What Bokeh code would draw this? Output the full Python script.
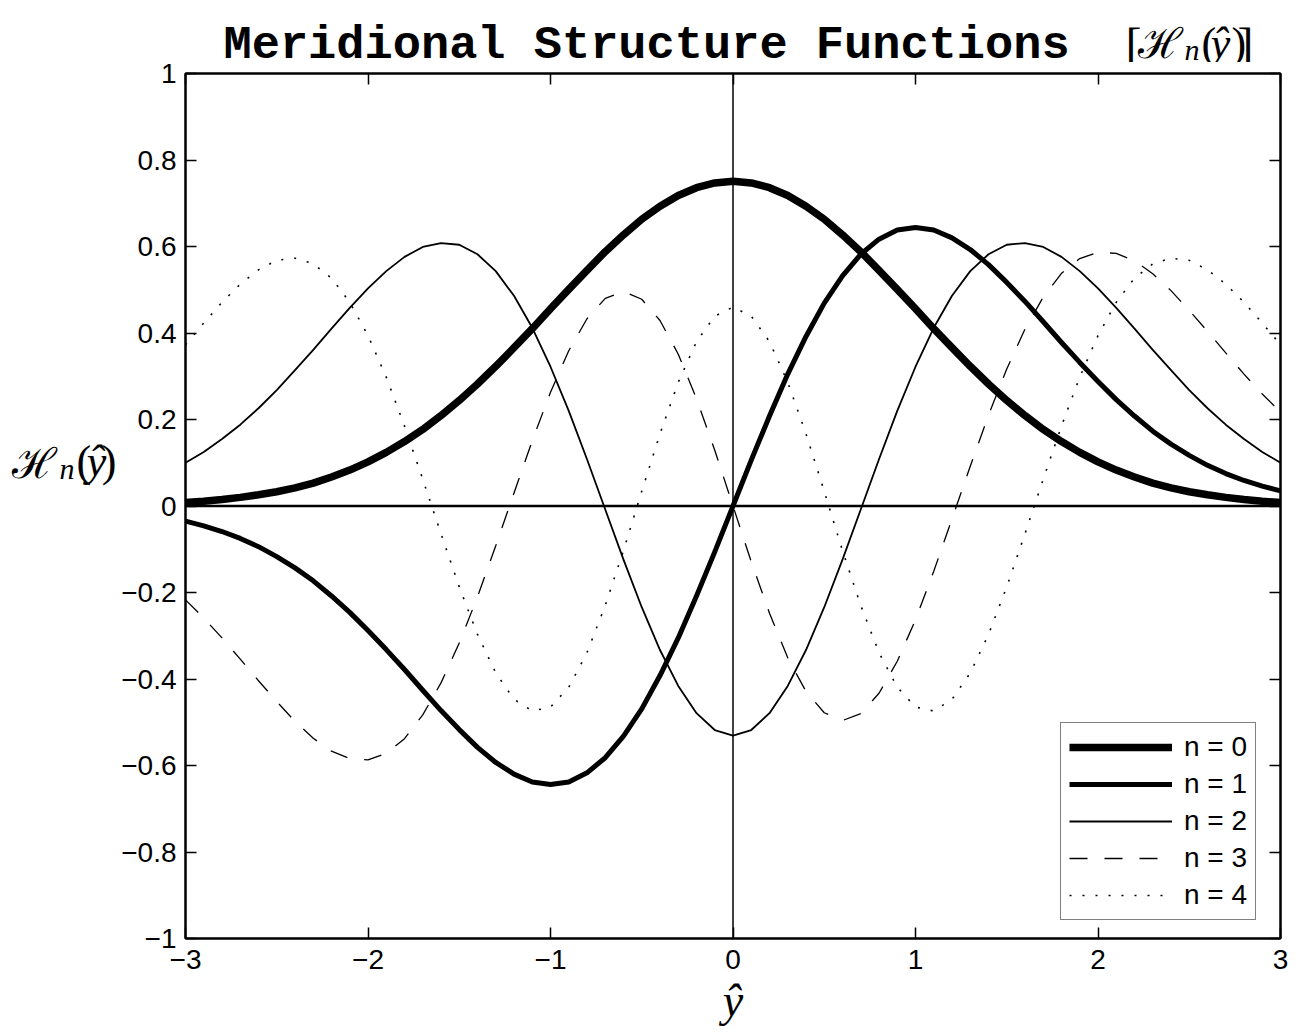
from bokeh.plotting import figure
from bokeh.models import Range1d, FixedTicker, LinearAxis, Span
from bokeh.layouts import column, row
from bokeh.core.properties import value
from bokeh.embed import file_html
from bokeh.resources import INLINE

# ---------------- data ----------------
Y_HAT = [-3.0, -2.9, -2.8, -2.7, -2.6, -2.5, -2.4, -2.3, -2.2, -2.1,
         -2.0, -1.9, -1.8, -1.7, -1.6, -1.5, -1.4, -1.3, -1.2, -1.1,
         -1.0, -0.9, -0.8, -0.7, -0.6, -0.5, -0.4, -0.3, -0.2, -0.1,
         0.0,
         0.1, 0.2, 0.3, 0.4, 0.5, 0.6, 0.7, 0.8, 0.9, 1.0,
         1.1, 1.2, 1.3, 1.4, 1.5, 1.6, 1.7, 1.8, 1.9, 2.0,
         2.1, 2.2, 2.3, 2.4, 2.5, 2.6, 2.7, 2.8, 2.9, 3.0]

H0 = [0.008, 0.011, 0.015, 0.020, 0.026, 0.033, 0.042, 0.053, 0.067, 0.083,
      0.102, 0.124, 0.149, 0.177, 0.209, 0.244, 0.282, 0.323, 0.366, 0.410,
      0.456, 0.501, 0.545, 0.588, 0.627, 0.663, 0.693, 0.718, 0.736, 0.747,
      0.751,
      0.747, 0.736, 0.718, 0.693, 0.663, 0.627, 0.588, 0.545, 0.501, 0.456,
      0.410, 0.366, 0.323, 0.282, 0.244, 0.209, 0.177, 0.149, 0.124, 0.102,
      0.083, 0.067, 0.053, 0.042, 0.033, 0.026, 0.020, 0.015, 0.011, 0.008]

H1 = [-0.035, -0.046, -0.059, -0.075, -0.094, -0.117, -0.143, -0.173, -0.208, -0.246,
      -0.288, -0.332, -0.378, -0.426, -0.473, -0.517, -0.558, -0.593, -0.620, -0.638,
      -0.644, -0.638, -0.617, -0.582, -0.532, -0.469, -0.392, -0.305, -0.208, -0.106,
      0.000,
      0.106, 0.208, 0.305, 0.392, 0.469, 0.532, 0.582, 0.617, 0.638, 0.644,
      0.638, 0.620, 0.593, 0.558, 0.517, 0.473, 0.426, 0.378, 0.332, 0.288,
      0.246, 0.208, 0.173, 0.143, 0.117, 0.094, 0.075, 0.059, 0.046, 0.035]

H2 = [0.100, 0.125, 0.155, 0.188, 0.226, 0.268, 0.314, 0.361, 0.410, 0.458,
      0.503, 0.543, 0.576, 0.599, 0.608, 0.604, 0.582, 0.543, 0.486, 0.412,
      0.322, 0.220, 0.108, -0.008, -0.124, -0.234, -0.333, -0.416, -0.479, -0.518,
      -0.531,
      -0.518, -0.479, -0.416, -0.333, -0.234, -0.124, -0.008, 0.108, 0.220, 0.322,
      0.412, 0.486, 0.543, 0.582, 0.604, 0.608, 0.599, 0.576, 0.543, 0.503,
      0.458, 0.410, 0.361, 0.314, 0.268, 0.226, 0.188, 0.155, 0.125, 0.100]

H3 = [-0.217, -0.259, -0.305, -0.354, -0.404, -0.452, -0.498, -0.537, -0.567, -0.584,
      -0.587, -0.572, -0.538, -0.483, -0.409, -0.317, -0.210, -0.092, 0.030, 0.151,
      0.263, 0.359, 0.433, 0.480, 0.496, 0.478, 0.429, 0.351, 0.248, 0.129,
      0.000,
      -0.129, -0.248, -0.351, -0.429, -0.478, -0.496, -0.480, -0.433, -0.359, -0.263,
      -0.151, -0.030, 0.092, 0.210, 0.317, 0.409, 0.483, 0.538, 0.572, 0.587,
      0.584, 0.567, 0.537, 0.498, 0.452, 0.404, 0.354, 0.305, 0.259, 0.217]

H4 = [0.373, 0.423, 0.471, 0.513, 0.546, 0.568, 0.573, 0.560, 0.527, 0.471,
      0.394, 0.298, 0.185, 0.062, -0.064, -0.187, -0.297, -0.386, -0.447, -0.474,
      -0.465, -0.419, -0.339, -0.230, -0.103, 0.034, 0.167, 0.286, 0.380, 0.439,
      0.460,
      0.439, 0.380, 0.286, 0.167, 0.034, -0.103, -0.230, -0.339, -0.419, -0.465,
      -0.474, -0.447, -0.386, -0.297, -0.187, -0.064, 0.062, 0.185, 0.298, 0.394,
      0.471, 0.527, 0.560, 0.573, 0.568, 0.546, 0.513, 0.471, 0.423, 0.373]

SERIES_LABELS = ["n = 0", "n = 1", "n = 2", "n = 3", "n = 4"]

XTICKS = [-3, -2, -1, 0, 1, 2, 3]
XTICK_LABELS = ["\u22123", "\u22122", "\u22121", "0", "1", "2", "3"]
YTICKS = [-1.0, -0.8, -0.6, -0.4, -0.2, 0.0, 0.2, 0.4, 0.6, 0.8, 1.0]
YTICK_LABELS = ["\u22121", "\u22120.8", "\u22120.6", "\u22120.4", "\u22120.2", "0",
                "0.2", "0.4", "0.6", "0.8", "1"]

TITLE_TEXT = "Meridional Structure Functions"
X_LABEL = "\u0177"

# ---------------- layout (picture pixels) ----------------
W, H = 1307, 1034
FRAME_L, FRAME_R, FRAME_T, FRAME_B = 183, 1280, 73, 938
TITLE_H = 62          # title strip: rows 0 .. 62
YLAB_W = 118          # y-label strip: columns 0 .. 118
MID_H = H - TITLE_H

SERIF = "Liberation Serif"
SCRIPT = "DejaVu Serif"
TICK_FONT = "Liberation Sans"


def text_strip(width, height):
    """A blank figure whose data units are pixels, y measured up from its bottom."""
    f = figure(width=width, height=height,
               x_range=Range1d(0, width), y_range=Range1d(0, height),
               output_backend="svg", toolbar_location=None,
               x_axis_location=None, y_axis_location=None, min_border=0)
    f.title.visible = False
    f.grid.visible = False
    f.outline_line_color = None
    f.background_fill_color = "white"
    f.border_fill_color = "white"
    return f


def add_text(f, x0, y0, px, py, text, font, size, style="normal", align="left"):
    # (px, py): picture pixels from the top-left; (x0, y0): strip origin
    f.text(x=[px - x0], y=[f.height - (py - y0)], text=[text],
           text_font=value(font), text_font_size=value(size),
           text_font_style=style, text_align=align,
           text_baseline="alphabetic", text_color="black")


# ---- title strip ----
tfig = text_strip(W, TITLE_H)
add_text(tfig, 0, 0, 223, 45, TITLE_TEXT, "Liberation Mono", "47px", "bold")
add_text(tfig, 0, 0, 1125, 44, "[", SERIF, "48px")
add_text(tfig, 0, 0, 1137, 43, "\u210b", SCRIPT, "42px")
add_text(tfig, 0, 0, 1184, 49, "n", SERIF, "30px", "italic")
add_text(tfig, 0, 0, 1201, 43, "(", SERIF, "44px")
add_text(tfig, 0, 0, 1220, 43, "\u0177", SERIF, "44px", "italic", "center")
add_text(tfig, 0, 0, 1231, 43, ")", SERIF, "44px")
add_text(tfig, 0, 0, 1253, 44, "]", SERIF, "48px", "normal", "right")

# ---- y-label strip ----
yfig = text_strip(YLAB_W, MID_H)
add_text(yfig, 0, TITLE_H, 11, 500, "\u210b", SCRIPT, "42px")
add_text(yfig, 0, TITLE_H, 59, 506, "n", SERIF, "30px", "italic")
add_text(yfig, 0, TITLE_H, 76, 498, "(", SERIF, "44px")
add_text(yfig, 0, TITLE_H, 96, 498, "\u0177", SERIF, "44px", "italic", "center")
add_text(yfig, 0, TITLE_H, 116, 498, ")", SERIF, "44px", "normal", "right")

# ---- main plot ----
p = figure(width=W - YLAB_W, height=MID_H,
           x_range=Range1d(-3, 3), y_range=Range1d(-1, 1),
           output_backend="svg", toolbar_location=None,
           min_border_left=FRAME_L - YLAB_W, min_border_right=W - FRAME_R,
           min_border_top=FRAME_T - TITLE_H, min_border_bottom=H - FRAME_B)
p.title.visible = False
p.xgrid.visible = False
p.ygrid.visible = False
p.background_fill_color = "white"
p.border_fill_color = "white"
p.outline_line_color = "black"
p.outline_line_width = 2


def style_axis(ax, show_labels):
    ax.axis_line_color = "black"
    ax.axis_line_width = 2
    ax.major_tick_in = 11
    ax.major_tick_out = 0
    ax.major_tick_line_width = 1.5
    ax.major_tick_line_color = "black"
    ax.minor_tick_line_color = None
    if show_labels:
        ax.major_label_text_font = TICK_FONT
        ax.major_label_text_font_size = "28px"
        ax.major_label_text_color = "black"
    else:
        ax.major_label_text_font_size = "1px"
        ax.major_label_text_color = None
        ax.major_label_standoff = 0


xax = p.xaxis[0]
xax.ticker = FixedTicker(ticks=XTICKS)
xax.major_label_overrides = {float(t): s for t, s in zip(XTICKS, XTICK_LABELS)}
style_axis(xax, True)
xax.major_label_standoff = 11
xax.axis_label = X_LABEL
xax.axis_label_text_font = SERIF
xax.axis_label_text_font_style = "italic"
xax.axis_label_text_font_size = "46px"
xax.axis_label_text_color = "black"
xax.axis_label_standoff = 3

yax = p.yaxis[0]
yax.ticker = FixedTicker(ticks=YTICKS)
yax.major_label_overrides = {float(t): s for t, s in zip(YTICKS, YTICK_LABELS)}
style_axis(yax, True)
yax.major_label_standoff = 9

rax = LinearAxis(ticker=FixedTicker(ticks=YTICKS))
style_axis(rax, False)
p.add_layout(rax, "right")
tax = LinearAxis(ticker=FixedTicker(ticks=XTICKS))
style_axis(tax, False)
p.add_layout(tax, "above")

# zero reference lines
p.add_layout(Span(location=0, dimension="width", line_color="black", line_width=2.5))
p.add_layout(Span(location=0, dimension="height", line_color="black", line_width=1.5))

# curves
p.line(Y_HAT, H0, line_color="black", line_width=7.5, line_join="round",
       legend_label=SERIES_LABELS[0])
p.line(Y_HAT, H1, line_color="black", line_width=5, line_join="round",
       legend_label=SERIES_LABELS[1])
p.line(Y_HAT, H2, line_color="black", line_width=1.8, line_join="round",
       legend_label=SERIES_LABELS[2])
p.line(Y_HAT, H3, line_color="black", line_width=1.3, line_dash="18 17",
       legend_label=SERIES_LABELS[3])
p.line(Y_HAT, H4, line_color="black", line_width=1.6, line_dash="2 11",
       legend_label=SERIES_LABELS[4])

lg = p.legend[0]
lg.location = (1058 - FRAME_L, FRAME_B - 920)
lg.margin = 0
lg.padding = 8
lg.spacing = 5
lg.glyph_width = 103
lg.glyph_height = 30
lg.label_height = 30
lg.label_standoff = 12
lg.label_text_font = TICK_FONT
lg.label_text_font_size = "28px"
lg.label_text_color = "black"
lg.border_line_color = "black"
lg.border_line_width = 1.5
lg.background_fill_color = "white"
lg.background_fill_alpha = 1.0

layout = column(tfig, row(yfig, p))

open("out.html", "w").write(file_html(layout, INLINE))
